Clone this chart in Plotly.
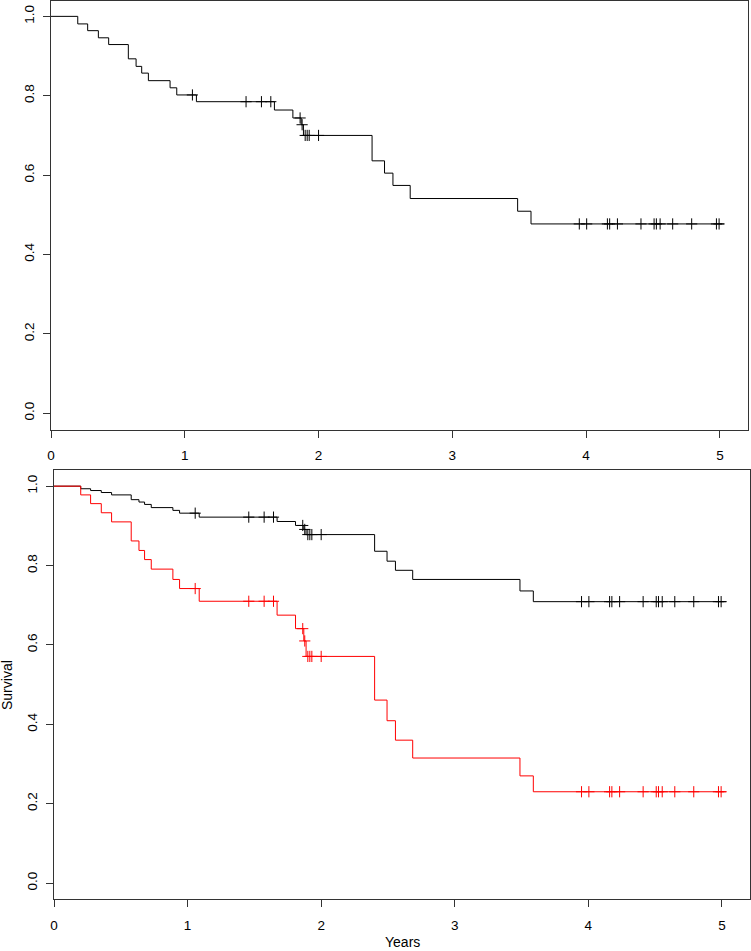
import numpy as np
import plotly.graph_objects as go

# ---- data ----
event_times = [0, 0.20, 0.274, 0.354, 0.431, 0.578, 0.636, 0.678, 0.728, 0.890, 0.940,
               1.087, 1.670, 1.808, 1.870, 1.887, 2.400, 2.493, 2.556, 2.685, 3.488, 3.588, 5.03]
surv_all = [1.0, 0.981, 0.964, 0.946, 0.929, 0.893, 0.874, 0.857, 0.838, 0.820, 0.802,
            0.785, 0.764, 0.744, 0.727, 0.700, 0.636, 0.605, 0.574, 0.541, 0.509, 0.477, 0.477]
surv_black = [1.0, 0.9935, 0.989, 0.984, 0.978, 0.966, 0.960, 0.954, 0.946, 0.939, 0.932,
              0.922, 0.911, 0.901, 0.891, 0.878, 0.836, 0.811, 0.788, 0.765, 0.736, 0.709, 0.709]
surv_red = [1.0, 0.978, 0.956, 0.933, 0.910, 0.862, 0.838, 0.815, 0.791, 0.765, 0.742,
            0.710, 0.675, 0.641, 0.610, 0.571, 0.461, 0.409, 0.360, 0.315, 0.270, 0.230, 0.230]
censor_times = [1.057, 1.458, 1.573, 1.643, 1.862, 1.877, 1.900, 1.915, 1.930, 2.000,
                3.949, 4.004, 4.159, 4.176, 4.234, 4.410, 4.508, 4.525, 4.553, 4.647,
                4.789, 4.974, 4.994]
x_ticks = [0, 1, 2, 3, 4, 5]
y_ticks = [0.0, 0.2, 0.4, 0.6, 0.8, 1.0]
y_tick_labels = ["0.0", "0.2", "0.4", "0.6", "0.8", "1.0"]


def step_at(times, surv, ts):
    t = np.asarray(times)
    s = np.asarray(surv)
    idx = np.searchsorted(t, np.asarray(ts), side="right") - 1
    return s[idx]


W, H = 751, 951
FONT = "Liberation Sans, Arial, Helvetica, sans-serif"

fig = go.Figure()


def add_curve(surv, color, xa, ya):
    fig.add_trace(go.Scatter(x=event_times, y=surv, mode="lines", line_shape="hv",
                             line=dict(color=color, width=1), xaxis=xa, yaxis=ya,
                             showlegend=False, hoverinfo="skip"))
    fig.add_trace(go.Scatter(x=censor_times, y=step_at(event_times, surv, censor_times),
                             mode="markers",
                             marker=dict(symbol="cross-thin", size=8,
                                         line=dict(color=color, width=1)),
                             xaxis=xa, yaxis=ya, showlegend=False, hoverinfo="skip"))


add_curve(surv_all, "#000000", "x", "y")
add_curve(surv_black, "#000000", "x2", "y2")
add_curve(surv_red, "#ff0000", "x2", "y2")

xcommon = dict(range=[0, 5.21], tickvals=x_ticks, ticks="outside", ticklen=7,
               tickcolor="#333", showline=True, linecolor="#333", linewidth=1,
               mirror=True, showgrid=False, zeroline=False,
               tickfont=dict(family=FONT, size=13.5, color="#000"), automargin=False,
               ticklabelstandoff=6)
ycommon = dict(range=[-0.041, 1.04], tickvals=y_ticks, ticktext=y_tick_labels,
               ticks="outside", ticklen=7, tickcolor="#333", showline=True,
               linecolor="#333", linewidth=1, mirror=True, showgrid=False,
               zeroline=False, tickangle=-90,
               tickfont=dict(family=FONT, size=13.5, color="#000"), automargin=False,
               ticklabelstandoff=4)

top_px = (0.5, 429.5)
bot_px = (470.3, 899.3)

fig.update_layout(
    width=W, height=H,
    margin=dict(l=0, r=0, t=0, b=0),
    paper_bgcolor="white", plot_bgcolor="white",
    xaxis=dict(domain=[51 / W, 748 / W], anchor="y", **xcommon),
    yaxis=dict(domain=[1 - top_px[1] / H, 1 - top_px[0] / H], anchor="x", **ycommon),
    xaxis2=dict(domain=[54 / W, 750 / W], anchor="y2", **xcommon),
    yaxis2=dict(domain=[1 - bot_px[1] / H, 1 - bot_px[0] / H], anchor="x2", **ycommon),
    annotations=[
        dict(text="Survival", x=7 / W, y=1 - 685 / H, xref="paper", yref="paper",
             textangle=-90, showarrow=False, xanchor="center", yanchor="middle",
             font=dict(family=FONT, size=14, color="#000")),
        dict(text="Years", x=402 / W, y=1 - 942 / H, xref="paper", yref="paper",
             showarrow=False, xanchor="center", yanchor="middle",
             font=dict(family=FONT, size=14, color="#000")),
    ],
)

fig.write_html("out.html", config={"displayModeBar": False},
               post_script="document.body.style.margin='0';document.body.style.overflow='hidden';")
